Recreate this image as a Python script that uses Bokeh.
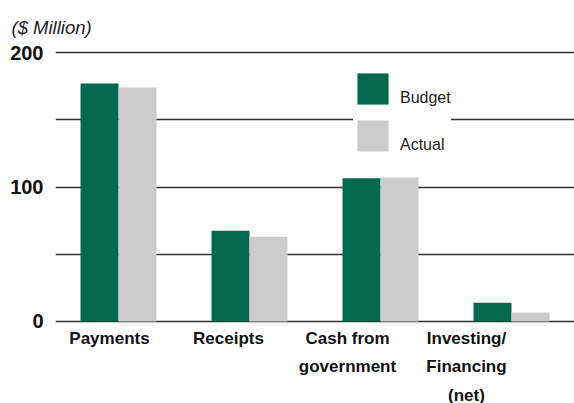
from bokeh.plotting import figure
from bokeh.models import (ColumnDataSource, Range1d, FixedTicker,
                          Legend, LegendItem, LinearAxis)
from bokeh.transform import dodge
from bokeh.embed import file_html
from bokeh.resources import INLINE

categories = ["Payments", "Receipts", "Cash from\ngovernment", "Investing/\nFinancing\n(net)"]
budget = [177, 67.5, 106.5, 14]
actual = [174, 63, 107, 6.7]
y_ticks = [0, 50, 100, 150, 200]
y_tick_labels = {0: "0", 50: "", 100: "100", 150: "", 200: "200"}
unit_label = "($ Million)"

GREEN = "#03694a"
GREY = "#cccccc"
FONT = "'Liberation Sans', Arial, sans-serif"

# category index positions (one slot per category)
idx = list(range(len(categories)))
src = ColumnDataSource(dict(idx=idx, cat=categories, budget=budget, actual=actual))

p = figure(frame_width=519, frame_height=279, output_backend="svg", toolbar_location=None,
           x_range=Range1d(-0.481, 3.481),
           y_range=Range1d(-1.5, 206),
           min_border_left=55, min_border_right=0, min_border_top=44, min_border_bottom=80)
p.outline_line_color = None

r1 = p.vbar(x=dodge("idx", -0.145), top="budget", width=0.29,
            source=src, fill_color=GREEN, line_color=None)
r2 = p.vbar(x=dodge("idx", 0.145), top="actual", width=0.29,
            source=src, fill_color=GREY, line_color=None)

# category labels: evenly spaced, slightly left of the bar groups (as in the original)
p.xaxis.visible = False
label_pos = [i + 1 for i in idx]
p.extra_x_ranges = {"labels": Range1d(0.5462, 4.9076)}
cat_axis = LinearAxis(x_range_name="labels", ticker=FixedTicker(ticks=label_pos),
                      major_label_overrides={pos: c for pos, c in zip(label_pos, categories)})
cat_axis.axis_line_color = None
cat_axis.major_tick_line_color = None
cat_axis.minor_tick_line_color = None
cat_axis.major_tick_out = 0
cat_axis.major_tick_in = 0
cat_axis.major_label_text_font = FONT
cat_axis.major_label_text_font_style = "bold"
cat_axis.major_label_text_font_size = "17px"
cat_axis.major_label_text_line_height = 1.5
cat_axis.major_label_text_color = "#111111"
cat_axis.major_label_standoff = 5
p.add_layout(cat_axis, "below")

p.yaxis.ticker = FixedTicker(ticks=y_ticks)
p.yaxis.major_label_overrides = y_tick_labels
p.yaxis.axis_line_color = None
p.yaxis.major_tick_line_color = None
p.yaxis.minor_tick_line_color = None
p.yaxis.major_tick_out = 0
p.yaxis.major_tick_in = 0
p.yaxis.major_label_text_font = FONT
p.yaxis.major_label_text_font_style = "bold"
p.yaxis.major_label_text_font_size = "20px"
p.yaxis.major_label_text_color = "#111111"
p.yaxis.major_label_standoff = 12

p.xgrid.grid_line_color = None
p.ygrid.ticker = FixedTicker(ticks=y_ticks)
p.ygrid.grid_line_color = "#333333"
p.ygrid.grid_line_width = 1.6

p.title.text = unit_label
p.title.text_font = FONT
p.title.text_font_style = "italic"
p.title.text_font_size = "18.5px"
p.title.text_color = "#222222"
p.title.align = "left"
p.title.offset = -44
p.title.standoff = 13

legend = Legend(items=[LegendItem(label="\nBudget", renderers=[r1]),
                       LegendItem(label="\nActual", renderers=[r2])],
                location=(298, 168), margin=0, padding=7, spacing=8,
                glyph_width=39, glyph_height=39, label_standoff=8,
                label_text_font=FONT, label_text_font_size="16px",
                label_text_color="#222222",
                border_line_color=None, background_fill_color="white",
                background_fill_alpha=1)
p.add_layout(legend, "center")

open("out.html", "w").write(file_html(p, INLINE))
